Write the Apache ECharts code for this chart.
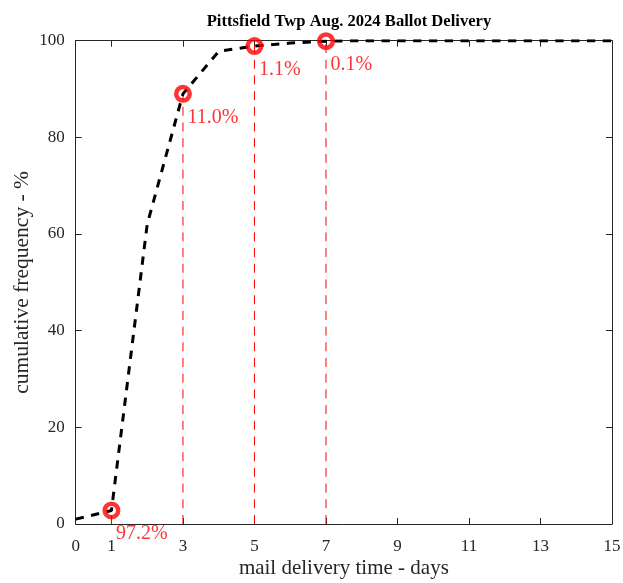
<!DOCTYPE html>
<html>
<head>
<meta charset="utf-8">
<script src="https://cdn.jsdelivr.net/npm/echarts@6/dist/echarts.min.js"></script>
<style>
  html, body { margin: 0; padding: 0; background: #fff; }
  #chart { width: 623px; height: 583px; }
</style>
</head>
<body>
<div id="chart"></div>
<script>
// 累计投递曲线（按天）
const days = [0, 1, 2, 3, 4, 5, 6, 7, 8, 9, 10, 11, 12, 13, 14, 15];
const cumPct = [1, 2.8, 62, 89, 97.8, 98.9, 99.5, 99.9, 100, 100, 100, 100, 100, 100, 100, 100];

// 标记点与标注
const markDays = [1, 3, 5, 7];
const markPct = [2.8, 89, 98.9, 99.9];
const markLabels = ['97.2%', '11.0%', '1.1%', '0.1%'];

const xTicks = [0, 1, 3, 5, 7, 9, 11, 13, 15];

const FONT = '"Liberation Serif", "DejaVu Serif", serif';
const AX = '#262626';
const RED = '#ff0000';

const chart = echarts.init(document.getElementById('chart'), null, { renderer: 'canvas' });

const xCommon = {
  type: 'value', min: 0, max: 15,
  axisLine: { show: true, onZero: false, lineStyle: { color: AX, width: 1 } },
  axisTick: { show: true, inside: true, length: 6, customValues: xTicks, lineStyle: { color: AX } },
  splitLine: { show: false },
};
const yCommon = {
  type: 'value', min: 0, max: 100, interval: 20,
  axisLine: { show: true, onZero: false, lineStyle: { color: AX, width: 1 } },
  axisTick: { show: true, inside: true, length: 6, lineStyle: { color: AX } },
  splitLine: { show: false },
};

// 竖直红色虚线
const dropLines = markDays.map((d, i) => ({
  type: 'line',
  data: [[d, 0], [d, markPct[i]]],
  symbol: 'none',
  silent: true,
  z: 2,
  lineStyle: { color: RED, width: 1, type: [9, 6.7] },
}));

chart.setOption({
  backgroundColor: '#fff',
  animation: false,
  title: {
    text: 'Pittsfield Twp Aug. 2024 Ballot Delivery',
    left: 344, top: 8, textAlign: 'center',
    textStyle: { fontFamily: FONT, fontSize: 16.6, fontWeight: 'bold', color: '#000' },
  },
  grid: {
    left: 75.7, right: 11, top: 40.7, bottom: 59,
    containLabel: false, outerBoundsMode: 'none',
  },
  xAxis: [
    Object.assign({}, xCommon, {
      position: 'bottom',
      name: 'mail delivery time - days',
      nameLocation: 'middle', nameGap: 34, nameMoveOverlap: false,
      nameTextStyle: { fontFamily: FONT, fontSize: 21, color: AX },
      axisLabel: {
        customValues: xTicks, margin: 14,
        fontFamily: FONT, fontSize: 17, color: AX,
      },
    }),
    Object.assign({}, xCommon, { position: 'top', axisLabel: { show: false } }),
  ],
  yAxis: [
    Object.assign({}, yCommon, {
      position: 'left',
      name: 'cumulative frequency - %',
      nameLocation: 'middle', nameGap: 42, nameMoveOverlap: false,
      nameTextStyle: { fontFamily: FONT, fontSize: 21.5, color: AX },
      axisLabel: { margin: 11, fontFamily: FONT, fontSize: 17, color: AX },
    }),
    Object.assign({}, yCommon, { position: 'right', axisLabel: { show: false } }),
  ],
  series: [
    ...dropLines,
    {
      type: 'line',
      data: days.map((d, i) => [d, cumPct[i]]),
      symbol: 'none',
      z: 3,
      lineStyle: { color: '#000', width: 3, type: [8.3, 7.5] },
    },
    {
      type: 'scatter',
      data: markDays.map((d, i) => [d, markPct[i]]),
      symbol: 'circle',
      symbolSize: 13.5,
      z: 4,
      itemStyle: { color: 'rgba(0,0,0,0)', borderColor: RED, borderWidth: 4.5 },
      label: {
        show: true,
        position: [13.5, 32.5],
        align: 'left', verticalAlign: 'middle',
        formatter: p => markLabels[p.dataIndex],
        fontFamily: FONT, fontSize: 20, color: RED,
      },
    },
  ],
});
</script>
</body>
</html>
